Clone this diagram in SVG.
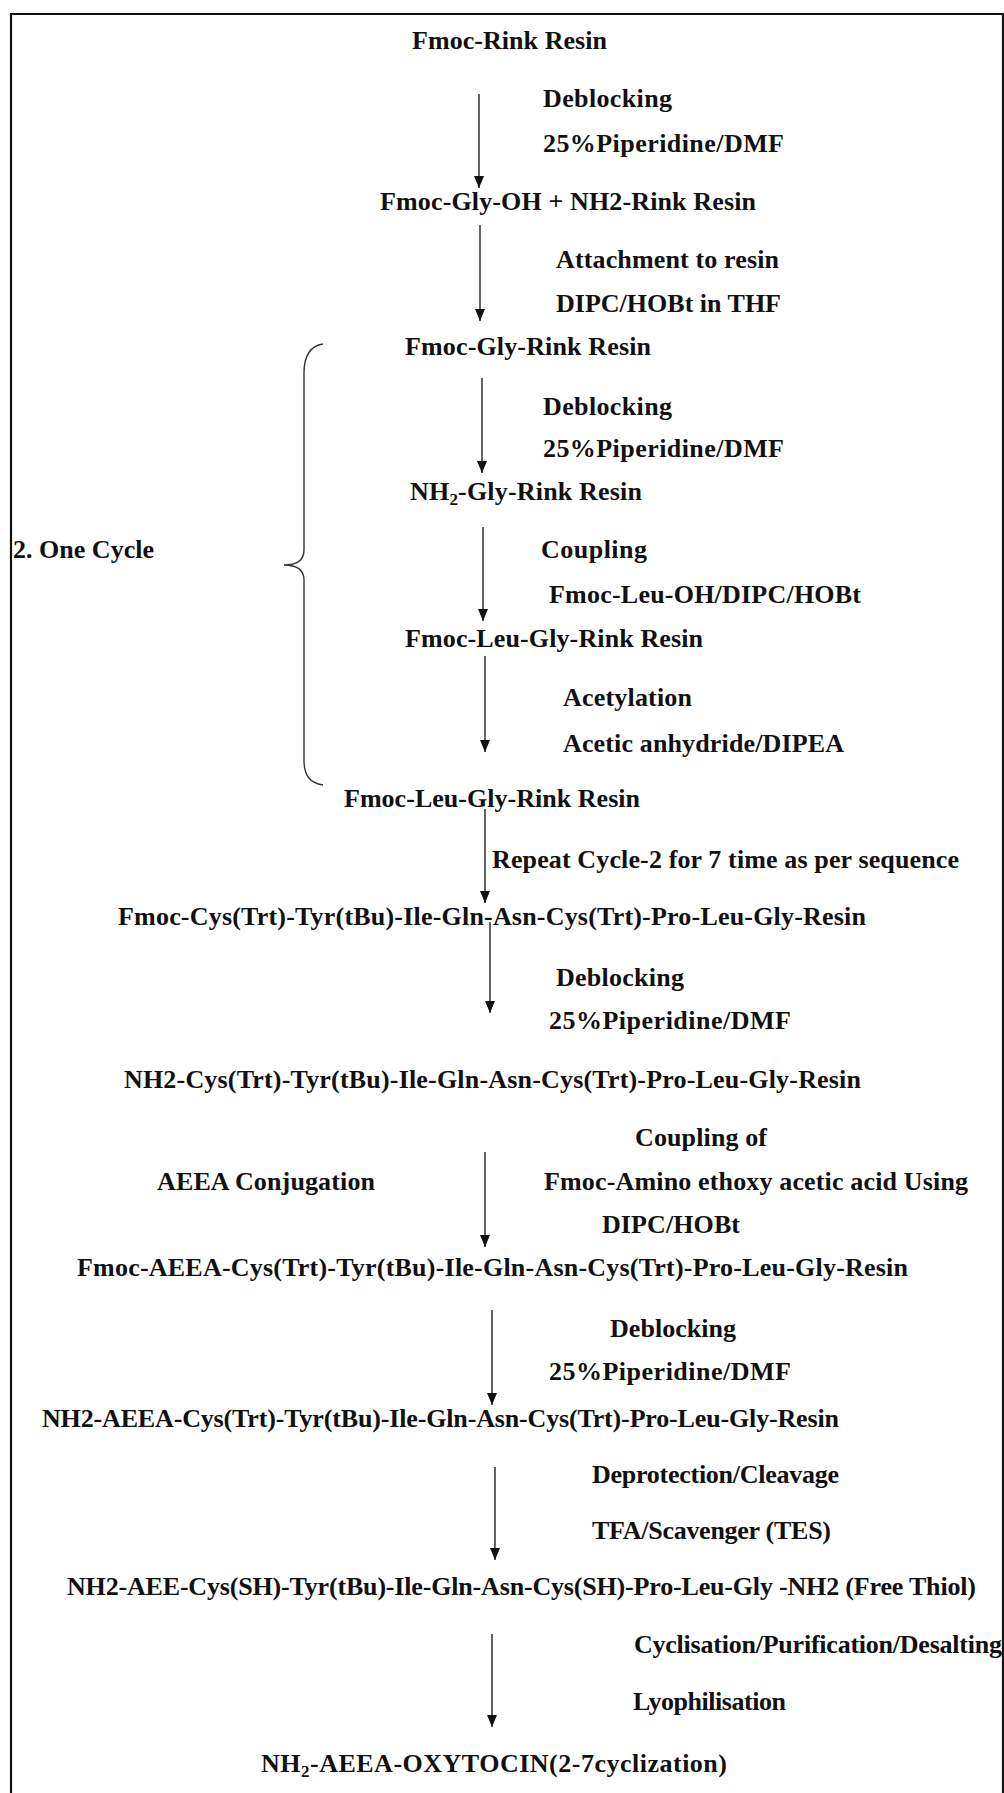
<svg xmlns="http://www.w3.org/2000/svg" width="1004" height="1793" viewBox="0 0 1004 1793">
<style>
  text { font-family: "Liberation Serif", "Times New Roman", serif; font-weight: bold; font-size: 26px; fill: #111; }
  .sub { font-size: 17px; }
  .conn { stroke: #222; stroke-width: 1.4; fill: none; }
  .brace { stroke: #333; stroke-width: 1.4; fill: none; }
  .frame { stroke: #111; stroke-width: 2.2; fill: none; }
</style>
<defs>
  <marker id="ah" markerUnits="userSpaceOnUse" markerWidth="12" markerHeight="10" viewBox="0 0 12 10" refX="12" refY="5" orient="auto">
    <path d="M0,0 L12,5 L0,10 z" fill="#111"/>
  </marker>
</defs>
<rect width="1004" height="1793" fill="#fff"/>
<path class="frame" d="M11,1793 V14 H1003 V1793"/>

<g id="connectors">
  <line class="conn" x1="479" y1="94" x2="479" y2="188" marker-end="url(#ah)"/>
  <line class="conn" x1="480" y1="225" x2="480" y2="321" marker-end="url(#ah)"/>
  <line class="conn" x1="482" y1="378" x2="482" y2="473" marker-end="url(#ah)"/>
  <line class="conn" x1="483" y1="527" x2="483" y2="621" marker-end="url(#ah)"/>
  <line class="conn" x1="485" y1="656" x2="485" y2="752" marker-end="url(#ah)"/>
  <line class="conn" x1="485" y1="809" x2="485" y2="903" marker-end="url(#ah)"/>
  <line class="conn" x1="490" y1="922" x2="490" y2="1013" marker-end="url(#ah)"/>
  <line class="conn" x1="485" y1="1152" x2="485" y2="1247" marker-end="url(#ah)"/>
  <line class="conn" x1="492" y1="1310" x2="492" y2="1405" marker-end="url(#ah)"/>
  <line class="conn" x1="495" y1="1467" x2="495" y2="1560" marker-end="url(#ah)"/>
  <line class="conn" x1="492" y1="1634" x2="492" y2="1727" marker-end="url(#ah)"/>
</g>

<g id="cycle-brace">
  <path class="brace" d="M323,344 C310,346 304,356 304,373 L304,550 C304,560 297,565 284,565 C297,565 304,570 304,580 L304,760 C304,776 310,783 323,785"/>
  <text x="13" y="558" textLength="141" lengthAdjust="spacing">2. One Cycle</text>
</g>

<g id="n1"><text x="412" y="49" textLength="195" lengthAdjust="spacing">Fmoc-Rink Resin</text></g>
<g id="s1">
  <text x="543" y="107" textLength="129" lengthAdjust="spacing">Deblocking</text>
  <text x="543" y="152" textLength="241" lengthAdjust="spacing">25%Piperidine/DMF</text>
</g>
<g id="n2"><text x="380" y="210" textLength="376" lengthAdjust="spacing">Fmoc-Gly-OH + NH2-Rink Resin</text></g>
<g id="s2">
  <text x="556" y="268" textLength="223" lengthAdjust="spacing">Attachment to resin</text>
  <text x="556" y="312" textLength="225" lengthAdjust="spacing">DIPC/HOBt in THF</text>
</g>
<g id="n3"><text x="405" y="355" textLength="246" lengthAdjust="spacing">Fmoc-Gly-Rink Resin</text></g>
<g id="s3">
  <text x="543" y="415" textLength="129" lengthAdjust="spacing">Deblocking</text>
  <text x="543" y="457" textLength="241" lengthAdjust="spacing">25%Piperidine/DMF</text>
</g>
<g id="n4"><text x="410" y="500" textLength="232" lengthAdjust="spacing">NH<tspan class="sub" dy="5">2</tspan><tspan dy="-5">-Gly-Rink Resin</tspan></text></g>
<g id="s4">
  <text x="541" y="558" textLength="106" lengthAdjust="spacing">Coupling</text>
  <text x="549" y="603" textLength="312" lengthAdjust="spacing">Fmoc-Leu-OH/DIPC/HOBt</text>
</g>
<g id="n5"><text x="405" y="647" textLength="298" lengthAdjust="spacing">Fmoc-Leu-Gly-Rink Resin</text></g>
<g id="s5">
  <text x="563" y="706" textLength="129" lengthAdjust="spacing">Acetylation</text>
  <text x="563" y="752" textLength="281" lengthAdjust="spacing">Acetic anhydride/DIPEA</text>
</g>
<g id="n6"><text x="344" y="807" textLength="296" lengthAdjust="spacing">Fmoc-Leu-Gly-Rink Resin</text></g>
<g id="s6"><text x="492" y="868" textLength="467" lengthAdjust="spacing">Repeat Cycle-2 for 7 time as per sequence</text></g>
<g id="n7"><text x="118" y="925" textLength="748" lengthAdjust="spacing">Fmoc-Cys(Trt)-Tyr(tBu)-Ile-Gln-Asn-Cys(Trt)-Pro-Leu-Gly-Resin</text></g>
<g id="s7">
  <text x="556" y="986" textLength="128" lengthAdjust="spacing">Deblocking</text>
  <text x="549" y="1029" textLength="242" lengthAdjust="spacing">25%Piperidine/DMF</text>
</g>
<g id="n8"><text x="124" y="1088" textLength="737" lengthAdjust="spacing">NH2-Cys(Trt)-Tyr(tBu)-Ile-Gln-Asn-Cys(Trt)-Pro-Leu-Gly-Resin</text></g>
<g id="s8">
  <text x="635" y="1146" textLength="132" lengthAdjust="spacing">Coupling of</text>
  <text x="157" y="1190" textLength="218" lengthAdjust="spacing">AEEA Conjugation</text>
  <text x="544" y="1190" textLength="424" lengthAdjust="spacing">Fmoc-Amino ethoxy acetic acid Using</text>
  <text x="602" y="1233" textLength="138" lengthAdjust="spacing">DIPC/HOBt</text>
</g>
<g id="n9"><text x="77" y="1276" textLength="831" lengthAdjust="spacing">Fmoc-AEEA-Cys(Trt)-Tyr(tBu)-Ile-Gln-Asn-Cys(Trt)-Pro-Leu-Gly-Resin</text></g>
<g id="s9">
  <text x="610" y="1337" textLength="126" lengthAdjust="spacing">Deblocking</text>
  <text x="549" y="1380" textLength="242" lengthAdjust="spacing">25%Piperidine/DMF</text>
</g>
<g id="n10"><text x="42" y="1427" textLength="797" lengthAdjust="spacing">NH2-AEEA-Cys(Trt)-Tyr(tBu)-Ile-Gln-Asn-Cys(Trt)-Pro-Leu-Gly-Resin</text></g>
<g id="s10">
  <text x="592" y="1483" textLength="247" lengthAdjust="spacing">Deprotection/Cleavage</text>
  <text x="592" y="1539" textLength="239" lengthAdjust="spacing">TFA/Scavenger (TES)</text>
</g>
<g id="n11"><text x="67" y="1595" textLength="909" lengthAdjust="spacing">NH2-AEE-Cys(SH)-Tyr(tBu)-Ile-Gln-Asn-Cys(SH)-Pro-Leu-Gly -NH2 (Free Thiol)</text></g>
<g id="s11">
  <text x="634" y="1653" textLength="368" lengthAdjust="spacing">Cyclisation/Purification/Desalting</text>
  <text x="633" y="1710" textLength="153" lengthAdjust="spacing">Lyophilisation</text>
</g>
<g id="n12"><text x="261" y="1772" textLength="466" lengthAdjust="spacing">NH<tspan class="sub" dy="5">2</tspan><tspan dy="-5">-AEEA-OXYTOCIN(2-7cyclization)</tspan></text></g>
</svg>
